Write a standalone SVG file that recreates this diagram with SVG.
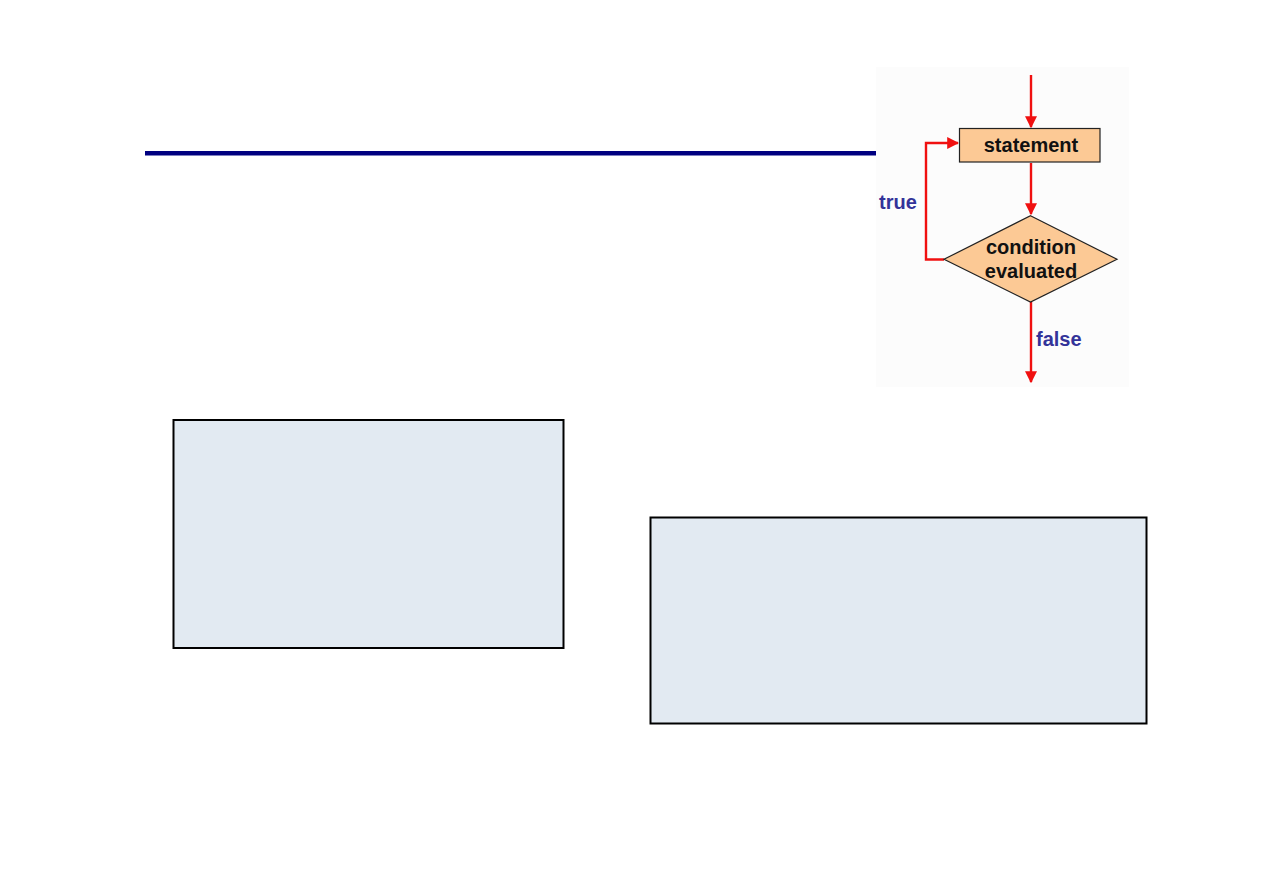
<svg xmlns="http://www.w3.org/2000/svg" width="1263" height="893" viewBox="0 0 1263 893">
<defs>
<style>
.box{fill:#e2eaf2;stroke:#000;stroke-width:2}
.node{fill:#fcc995;stroke:#222;stroke-width:1.2}
.lbl{font-family:"Liberation Sans",Arial,sans-serif;font-weight:bold;font-size:20px;fill:#111;text-anchor:middle}
.edge{font-family:"Liberation Sans",Arial,sans-serif;font-weight:bold;font-size:20px;fill:#333399}
.conn{fill:none;stroke:#f01010;stroke-width:2.4}
</style>
<marker id="ah" viewBox="0 0 10 10" refX="9" refY="5" markerWidth="5" markerHeight="5" orient="auto" markerUnits="strokeWidth">
<path d="M0,0 L10,5 L0,10 z" fill="#f01010"/>
</marker>
</defs>
<rect width="1263" height="893" fill="#fff"/>
<rect id="rule" x="145" y="151" width="732" height="4.5" fill="#000080"/>
<g id="box-left"><rect class="box" x="173.5" y="420" width="390" height="228"/></g>
<g id="box-right"><rect class="box" x="650.5" y="517.5" width="496" height="206"/></g>
<rect id="flow-bg" x="876" y="67" width="253" height="320" fill="#fcfcfc"/>
<g id="connectors">
<path class="conn" d="M1031,75 V127" marker-end="url(#ah)"/>
<path class="conn" d="M1031,163 V214" marker-end="url(#ah)"/>
<path class="conn" d="M944,259.5 H926 V143 H958" marker-end="url(#ah)"/>
<path class="conn" d="M1031,302 V382" marker-end="url(#ah)"/>
<text class="edge" x="879" y="209">true</text>
<text class="edge" x="1036" y="346">false</text>
</g>
<g id="statement">
<rect class="node" x="959.5" y="128.5" width="140.5" height="33.5"/>
<text class="lbl" x="1031" y="152">statement</text>
</g>
<g id="condition">
<polygon class="node" points="1030.5,215.7 1117,259.3 1030.5,302 944,259.3"/>
<text class="lbl" x="1031" y="254">condition</text>
<text class="lbl" x="1031" y="278">evaluated</text>
</g>
</svg>
